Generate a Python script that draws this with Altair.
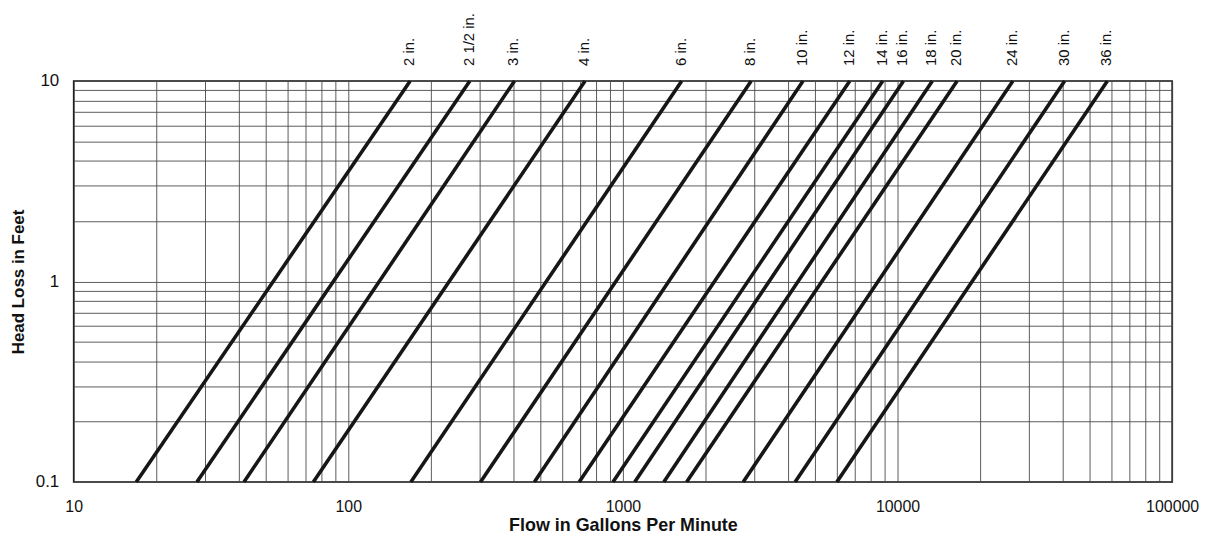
import altair as alt
import pandas as pd

sizes = ["2 in.", "2 1/2 in.", "3 in.", "4 in.", "6 in.", "8 in.", "10 in.", "12 in.",
         "14 in.", "16 in.", "18 in.", "20 in.", "24 in.", "30 in.", "36 in."]
# flow (GPM) where each pipe line meets head loss 0.1 ft and 10 ft
flow_low = [16.9, 28.1, 41.7, 74.6, 169, 303, 476, 693, 920, 1104, 1409, 1706, 2742, 4236, 6012]
flow_high = [168, 277, 403, 728, 1637, 2931, 4527, 6700, 8830, 10510, 13390, 16480, 26300, 40600, 58100]
head_low = 0.1
head_high = 10

x_grid = [10, 20, 30, 40, 50, 60, 70, 80, 90,
          100, 200, 300, 400, 500, 600, 700, 800, 900,
          1000, 2000, 3000, 4000, 5000, 6000, 7000, 8000, 9000,
          10000, 20000, 30000, 40000, 50000, 60000, 70000, 80000, 90000, 100000]
y_grid = [0.1, 0.2, 0.3, 0.4, 0.5, 0.6, 0.7, 0.8, 0.9,
          1, 2, 3, 4, 5, 6, 7, 8, 9, 10]

rows = []
for s, lo, hi in zip(sizes, flow_low, flow_high):
    rows.append({"size": s, "flow": lo, "head": head_low})
    rows.append({"size": s, "flow": hi, "head": head_high})
lines_df = pd.DataFrame(rows)
labels_df = pd.DataFrame({"size": sizes, "flow": flow_high, "head": [head_high] * len(sizes)})

FONT = "Liberation Sans"

xscale = alt.Scale(type="log", domain=[10, 100000], nice=False)
yscale = alt.Scale(type="log", domain=[0.1, 10], nice=False)

xaxis = alt.Axis(
    title="Flow in Gallons Per Minute",
    values=x_grid,
    labelExpr="indexof([10,100,1000,10000,100000], datum.value) >= 0 ? format(datum.value, 'd') : ''",
    ticks=False, domain=False, grid=True, labelFlush=False,
    gridColor="#4a4a4a", gridWidth=0.9,
    labelFont=FONT, labelFontSize=16, labelColor="#111111", labelPadding=17,
    titleFont=FONT, titleFontSize=18, titleFontWeight="bold", titleColor="#111111",
    titleX=552, titleY=44, titleBaseline="middle", labelOverlap=False,
)
yaxis = alt.Axis(
    title="Head Loss in Feet",
    values=y_grid, format="~g",
    labelExpr="(datum.value == 0.1 || datum.value == 1 || datum.value == 10) ? datum.label : ''",
    ticks=False, domain=False, grid=True,
    gridColor="#4a4a4a", gridWidth=0.9,
    labelFont=FONT, labelFontSize=17, labelColor="#111111", labelPadding=15,
    titleFont=FONT, titleFontSize=17, titleFontWeight="bold", titleColor="#111111",
    titleX=-55, titleY=201.5, titleBaseline="middle", titleAlign="center", labelOverlap=False,
)

lines = alt.Chart(lines_df).mark_line(color="#161616", strokeWidth=3.6).encode(
    x=alt.X("flow:Q", scale=xscale, axis=xaxis),
    y=alt.Y("head:Q", scale=yscale, axis=yaxis),
    detail="size:N",
)

labels = alt.Chart(labels_df).mark_text(
    angle=270, align="left", baseline="middle", dx=15, dy=-1,
    font=FONT, fontSize=15, color="#111111",
).encode(
    x=alt.X("flow:Q", scale=xscale),
    y=alt.Y("head:Q", scale=yscale),
    text="size:N",
)

chart = (lines + labels).properties(
    width=1104, height=403,
    autosize=alt.AutoSizeParams(type="none"),
    padding={"left": 66, "top": 72, "right": 29, "bottom": 53},
    background="white",
).configure_view(stroke="#111111", strokeWidth=1.6)

chart.save("out.html", embed_options={"renderer": "svg", "actions": False})
